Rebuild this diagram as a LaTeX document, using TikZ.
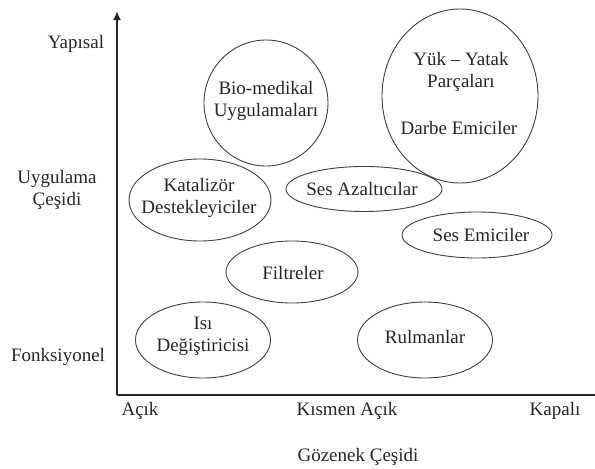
\documentclass[tikz,border=0pt]{standalone}
\usepackage{fontspec}
\setmainfont{Liberation Serif}
\usetikzlibrary{shapes.geometric,arrows.meta}
\begin{document}
\begin{tikzpicture}[x=1pt,y=-1pt,
  every node/.style={font=\fontsize{19}{22}\selectfont, text=black!85},
  blob/.style={draw=black!75, line width=0.9pt, ellipse, inner sep=0pt},
  lbl/.style={align=center, inner sep=0pt},
  axis/.style={line width=2.6pt, draw=black!85}]
\useasboundingbox (0,0) rectangle (595,469);
% axes
\coordinate (o) at (117,395);
\coordinate (ytop) at (117,11);
\coordinate (xend) at (595,395);
\draw[axis, -{Latex[length=9pt,width=8pt]}] (o) -- (ytop);
\draw[axis] (o) -- (xend);
% ellipses
\node[blob, minimum width=124pt, minimum height=126pt] (bio) at (266,103) {};
\node[lbl] (biotxt) at (266,101) {Bio-medikal\\Uygulamaları};
\node[blob, minimum width=156pt, minimum height=174pt] (yuk) at (460,96) {};
\node[lbl] (yuktxt) at (461,72) {Yük -- Yatak\\Parçaları};
\node[lbl] (darbe) at (459,128) {Darbe Emiciler};
\node[blob, minimum width=142pt, minimum height=82pt] (kat) at (200,200) {};
\node[lbl] (kattxt) at (199,198) {Katalizör\\Destekleyiciler};
\node[blob, minimum width=156pt, minimum height=45pt] (sesaz) at (364,189) {};
\node[lbl] (sesaztxt) at (362,189) {Ses Azaltıcılar};
\node[blob, minimum width=150pt, minimum height=46pt] (sesem) at (477,235) {};
\node[lbl] (sesemtxt) at (481,235) {Ses Emiciler};
\node[blob, minimum width=132pt, minimum height=62pt] (filt) at (292,272) {};
\node[lbl] (filttxt) at (293,273) {Filtreler};
\node[blob, minimum width=135pt, minimum height=76pt] (isi) at (203,340) {};
\node[lbl] (isitxt) at (203,336) {Isı\\Değiştiricisi};
\node[blob, minimum width=135pt, minimum height=76pt] (rul) at (425,340) {};
\node[lbl] (rultxt) at (425,337) {Rulmanlar};
% axis labels
\node[lbl] (yap) at (76,44) {Yapısal};
\node[lbl] (uyg) at (57,190) {Uygulama\\Çeşidi};
\node[lbl] (fonk) at (58,357) {Fonksiyonel};
\node[lbl] (acik) at (140,411) {Açık};
\node[lbl] (kism) at (347,411) {Kısmen Açık};
\node[lbl] (kap) at (555,411) {Kapalı};
\node[lbl] (goz) at (358,457) {Gözenek Çeşidi};
\end{tikzpicture}
\end{document}
